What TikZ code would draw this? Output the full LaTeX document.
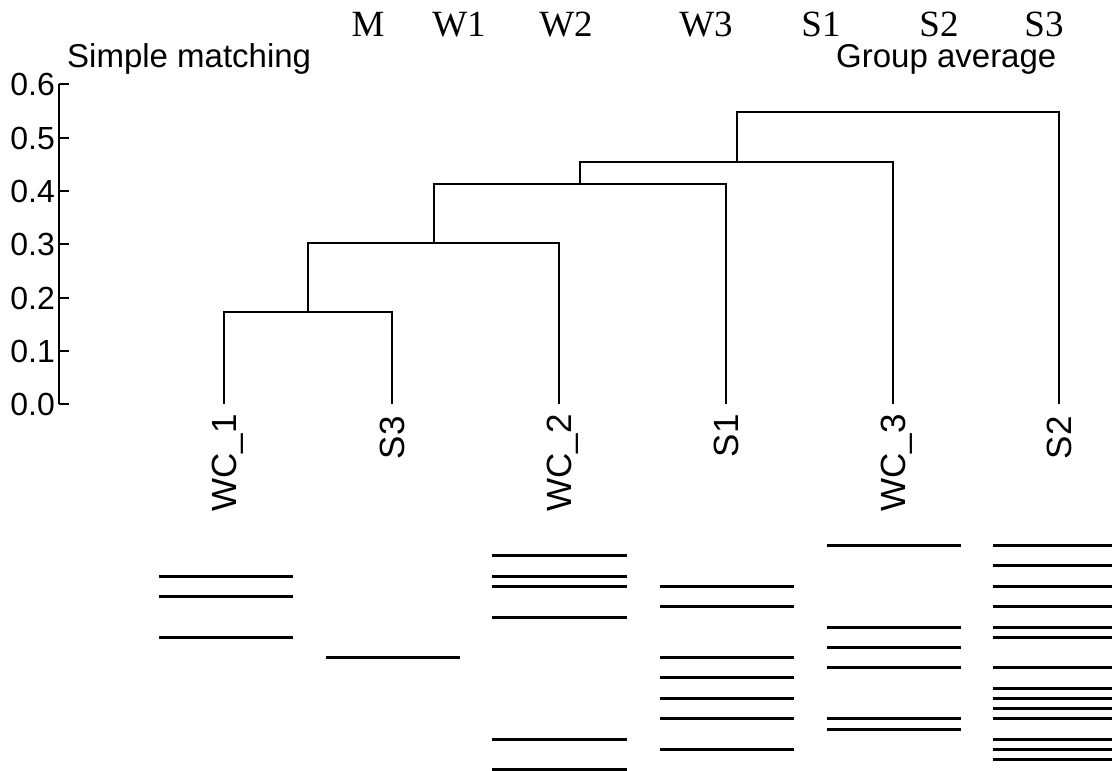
\documentclass[tikz,border=0pt]{standalone}
\usepackage{fontspec}
\setmainfont{Liberation Serif}
\setsansfont{Liberation Sans}
\begin{document}
\begin{tikzpicture}[x=1pt,y=-1pt,
  dend/.style={line width=2.7pt},
  axisline/.style={line width=2.4pt},
  bandline/.style={line width=3pt},
  ticklab/.style={font=\sffamily\fontsize{32}{32}\selectfont, anchor=east, inner sep=0pt},
  leaflab/.style={font=\sffamily\fontsize{35}{35}\selectfont, rotate=90, anchor=base east, inner sep=0pt},
  titlelab/.style={font=\sffamily\fontsize{33}{33}\selectfont, anchor=base west, inner sep=0pt},
  samplelab/.style={font=\rmfamily\fontsize{37}{37}\selectfont, anchor=base, inner sep=0pt}]
\useasboundingbox (0,0) rectangle (1112,771);
\fill[white] (0,0) rectangle (1112,771);

% sample header
\node[samplelab] (hM)  at (368,36) {M};
\node[samplelab] (hW1) at (459,36) {W1};
\node[samplelab] (hW2) at (566,36) {W2};
\node[samplelab] (hW3) at (706,36) {W3};
\node[samplelab] (hS1) at (821,36) {S1};
\node[samplelab] (hS2) at (939,36) {S2};
\node[samplelab] (hS3) at (1044,36) {S3};

% titles
\node[titlelab] (tl) at (67,67) {Simple matching};
\node[titlelab] (tr) at (836,67) {Group average};

% axis
\coordinate (atop) at (59,84);
\coordinate (abot) at (59,404);
\draw[axisline] (atop) -- (abot);
\foreach \v/\yy in {0.6/84,0.5/138,0.4/191,0.3/244,0.2/298,0.1/351,0.0/404}{
  \draw[axisline] (59,\yy) -- (69,\yy);
  \node[ticklab] at (55,\yy) {\v};
}

% leaves
\coordinate (wc1) at (224,404);
\coordinate (s3)  at (392,404);
\coordinate (wc2) at (559,404);
\coordinate (s1)  at (726,404);
\coordinate (wc3) at (893,404);
\coordinate (s2)  at (1059,404);

% merges
\coordinate (m1) at (308,312);
\coordinate (m2) at (434,243);
\coordinate (m3) at (580,184);
\coordinate (m4) at (737,162);
\coordinate (m5) at (898,112);

\draw[dend] (wc1) |- (m1) -| (s3);
\draw[dend] (m1) |- (m2) -| (wc2);
\draw[dend] (m2) |- (m3) -| (s1);
\draw[dend] (m3) |- (m4) -| (wc3);
\draw[dend] (m4) |- (m5) -| (s2);

% leaf labels
\node[leaflab] (lwc1) at (236,414) {WC\_1};
\node[leaflab] (ls3)  at (404,416) {S3};
\node[leaflab] (lwc2) at (571,414) {WC\_2};
\node[leaflab] (ls1)  at (738,414) {S1};
\node[leaflab] (lwc3) at (905,414) {WC\_3};
\node[leaflab] (ls2)  at (1071,416) {S2};

% bands
\foreach \yy in {576,596,637}{\draw[bandline] (159,\yy) -- (293,\yy);}
\foreach \yy in {657}{\draw[bandline] (326,\yy) -- (460,\yy);}
\foreach \yy in {555,576,586,617,739,769}{\draw[bandline] (492,\yy) -- (627,\yy);}
\foreach \yy in {586,606,657,677,698,718,749}{\draw[bandline] (660,\yy) -- (794,\yy);}
\foreach \yy in {545,627,647,667,718,729}{\draw[bandline] (827,\yy) -- (961,\yy);}
\foreach \yy in {545,565,586,606,627,637,667,688,698,708,718,739,749,759}{\draw[bandline] (993,\yy) -- (1112,\yy);}
\end{tikzpicture}
\end{document}
